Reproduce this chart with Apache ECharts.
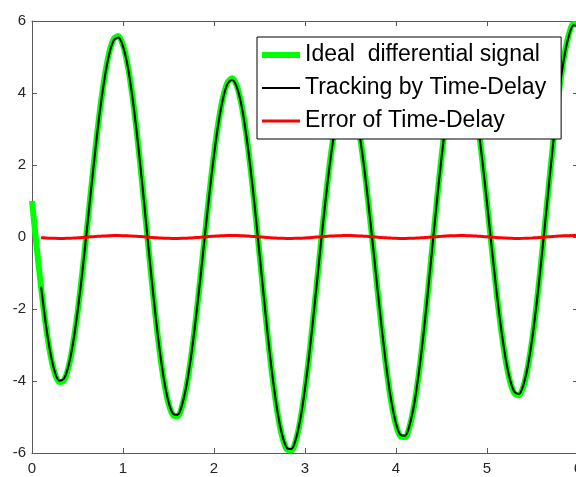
<!DOCTYPE html>
<html>
<head>
<meta charset="utf-8">
<script src="https://cdn.jsdelivr.net/npm/echarts@6/dist/echarts.min.js"></script>
<style>
html,body{margin:0;padding:0;background:#fff;}
#chart{width:576px;height:477px;}
</style>
</head>
<body>
<div id="chart"></div>
<script>
var tVals = [0,0.05,0.1,0.15,0.2,0.25,0.3,0.35,0.4,0.45,0.5,0.55,0.6,0.65,0.7,0.75,0.8,0.85,0.9,0.95,
1,1.05,1.1,1.15,1.2,1.25,1.3,1.35,1.4,1.45,1.5,1.55,1.6,1.65,1.7,1.75,1.8,1.85,1.9,1.95,
2,2.05,2.1,2.15,2.2,2.25,2.3,2.35,2.4,2.45,2.5,2.55,2.6,2.65,2.7,2.75,2.8,2.85,2.9,2.95,
3,3.05,3.1,3.15,3.2,3.25,3.3,3.35,3.4,3.45,3.5,3.55,3.6,3.65,3.7,3.75,3.8,3.85,3.9,3.95,
4,4.05,4.1,4.15,4.2,4.25,4.3,4.35,4.4,4.45,4.5,4.55,4.6,4.65,4.7,4.75,4.8,4.85,4.9,4.95,
5,5.05,5.1,5.15,5.2,5.25,5.3,5.35,5.4,5.45,5.5,5.55,5.6,5.65,5.7,5.75,5.8,5.85,5.9,5.95,6];

var ideal = [1.00,-0.24,-1.40,-2.42,-3.23,-3.78,-4.03,-3.98,-3.63,-2.99,
-2.11,-1.06,0.12,1.34,2.52,3.59,4.48,5.14,5.51,5.58,
5.33,4.79,3.98,2.95,1.76,0.48,-0.81,-2.03,-3.12,-4.00,
-4.62,-4.95,-4.98,-4.69,-4.12,-3.30,-2.29,-1.15,0.05,1.23,
2.30,3.21,3.89,4.30,4.41,4.21,3.71,2.94,1.95,0.79,
-0.47,-1.74,-2.96,-4.04,-4.92,-5.55,-5.90,-5.93,-5.65,-5.07,
-4.24,-3.21,-2.03,-0.79,0.44,1.58,2.57,3.34,3.84,4.05,
3.94,3.54,2.86,1.95,0.86,-0.32,-1.54,-2.71,-3.75,-4.61,
-5.22,-5.54,-5.56,-5.26,-4.67,-3.82,-2.76,-1.55,-0.26,1.02,
2.22,3.28,4.12,4.70,4.98,4.95,4.62,4.00,3.14,2.10,
0.95,-0.25,-1.42,-2.47,-3.34,-3.98,-4.34,-4.40,-4.15,-3.60,
-2.79,-1.76,-0.58,0.68,1.95,3.15,4.20,5.05,5.63,5.92,
5.90];

var tracking = [null,null,-1.38,-2.39,-3.19,-3.74,-3.99,-3.94,-3.59,-2.96,
-2.09,-1.04,0.13,1.34,2.51,3.57,4.45,5.10,5.47,5.54,
5.29,4.76,3.95,2.93,1.75,0.48,-0.80,-2.01,-3.09,-3.96,
-4.58,-4.91,-4.94,-4.65,-4.09,-3.28,-2.27,-1.14,0.05,1.22,
2.28,3.18,3.86,4.26,4.37,4.17,3.68,2.91,1.93,0.78,
-0.47,-1.73,-2.94,-4.02,-4.89,-5.51,-5.86,-5.89,-5.61,-5.04,
-4.21,-3.19,-2.02,-0.79,0.43,1.56,2.54,3.31,3.80,4.01,
3.90,3.50,2.83,1.93,0.85,-0.32,-1.53,-2.69,-3.73,-4.58,
-5.18,-5.50,-5.52,-5.22,-4.64,-3.79,-2.74,-1.54,-0.26,1.01,
2.20,3.25,4.09,4.66,4.94,4.91,4.58,3.97,3.12,2.09,
0.95,-0.25,-1.41,-2.45,-3.31,-3.94,-4.30,-4.36,-4.11,-3.57,
-2.76,-1.74,-0.57,0.68,1.94,3.13,4.17,5.02,5.59,5.88,
5.86];

var errorVals = [null,null,-0.019,-0.027,-0.034,-0.038,-0.040,-0.039,-0.036,-0.031,
-0.024,-0.015,-0.006,0.004,0.014,0.023,0.030,0.036,0.039,0.040,
0.038,0.034,0.028,0.020,0.011,0.001,-0.009,-0.018,-0.026,-0.033,
-0.038,-0.040,-0.040,-0.037,-0.032,-0.025,-0.016,-0.007,0.003,0.013,
0.022,0.029,0.035,0.039,0.040,0.039,0.035,0.029,0.021,0.012,
0.003,-0.007,-0.017,-0.025,-0.032,-0.037,-0.040,-0.040,-0.037,-0.033,
-0.026,-0.018,-0.008,0.002,0.012,0.021,0.028,0.035,0.038,0.040,
0.039,0.036,0.030,0.023,0.014,0.004,-0.006,-0.016,-0.024,-0.031,
-0.037,-0.039,-0.040,-0.038,-0.033,-0.027,-0.019,-0.010,0.000,0.010,
0.019,0.028,0.034,0.038,0.040,0.039,0.036,0.031,0.024,0.015,
0.005,-0.005,-0.014,-0.023,-0.031,-0.036,-0.039,-0.040,-0.038,-0.034,
-0.028,-0.020,-0.011,-0.001,0.009,0.018,0.027,0.033,0.038,0.040,
0.040];

var seriesNames = ['Ideal  differential signal', 'Tracking by Time-Delay', 'Error of Time-Delay'];

function pairs(arr){
  var out = [];
  for (var i = 0; i < tVals.length; i++) {
    if (arr[i] !== null) out.push([tVals[i], arr[i]]);
  }
  return out;
}

var FONT = 'Liberation Sans, Arial, Helvetica, sans-serif';
var AXC = '#5a5a5a';

function axisCommon(){
  return {
    axisLine:{show:true, onZero:false, lineStyle:{color:AXC, width:1}},
    axisTick:{show:true, inside:true, length:5, lineStyle:{color:AXC, width:1}},
    splitLine:{show:false}
  };
}

var chart = echarts.init(document.getElementById('chart'), null, {renderer:'canvas'});
chart.setOption({
  animation:false,
  backgroundColor:'#ffffff',
  grid:{left:32, top:21, width:546, height:432, containLabel:false, outerBoundsMode:'none'},
  xAxis:[
    Object.assign({type:'value', position:'bottom', min:0, max:6, interval:1,
      axisLabel:{show:true, color:'#262626', fontSize:15, fontFamily:FONT, margin:8}}, axisCommon()),
    Object.assign({type:'value', position:'top', min:0, max:6, interval:1,
      axisLabel:{show:false}}, axisCommon())
  ],
  yAxis:[
    Object.assign({type:'value', position:'left', min:-6, max:6, interval:2,
      axisLabel:{show:true, color:'#262626', fontSize:15, fontFamily:FONT, margin:6}}, axisCommon()),
    Object.assign({type:'value', position:'right', min:-6, max:6, interval:2,
      axisLabel:{show:false}}, axisCommon())
  ],
  legend:{
    show:true,
    orient:'vertical',
    left:257, top:37,
    backgroundColor:'#ffffff',
    borderColor:'#000000', borderWidth:1,
    padding:[6,15,6,5],
    itemWidth:38, itemHeight:20, itemGap:9,
    textStyle:{fontSize:23, fontFamily:FONT, color:'#000000', lineHeight:24},
    data:[
      {name:seriesNames[0], icon:'path://M0,0h38v6h-38z', itemStyle:{color:'#00ff00'}},
      {name:seriesNames[1], icon:'path://M0,0h38v2h-38z', itemStyle:{color:'#000000'}},
      {name:seriesNames[2], icon:'path://M0,0h38v3h-38z', itemStyle:{color:'#ff0000'}}
    ]
  },
  series:[
    {name:seriesNames[0], type:'line', data:pairs(ideal), showSymbol:false, symbol:'none',
      smooth:0.3, clip:false, lineStyle:{color:'#00ff00', width:6}, itemStyle:{color:'#00ff00'}, z:2},
    {name:seriesNames[1], type:'line', data:pairs(tracking), showSymbol:false, symbol:'none',
      smooth:0.3, clip:false, lineStyle:{color:'#000000', width:2}, itemStyle:{color:'#000000'}, z:3},
    {name:seriesNames[2], type:'line', data:pairs(errorVals), showSymbol:false, symbol:'none',
      smooth:0.3, clip:false, lineStyle:{color:'#ff0000', width:3}, itemStyle:{color:'#ff0000'}, z:4}
  ]
});
</script>
</body>
</html>
